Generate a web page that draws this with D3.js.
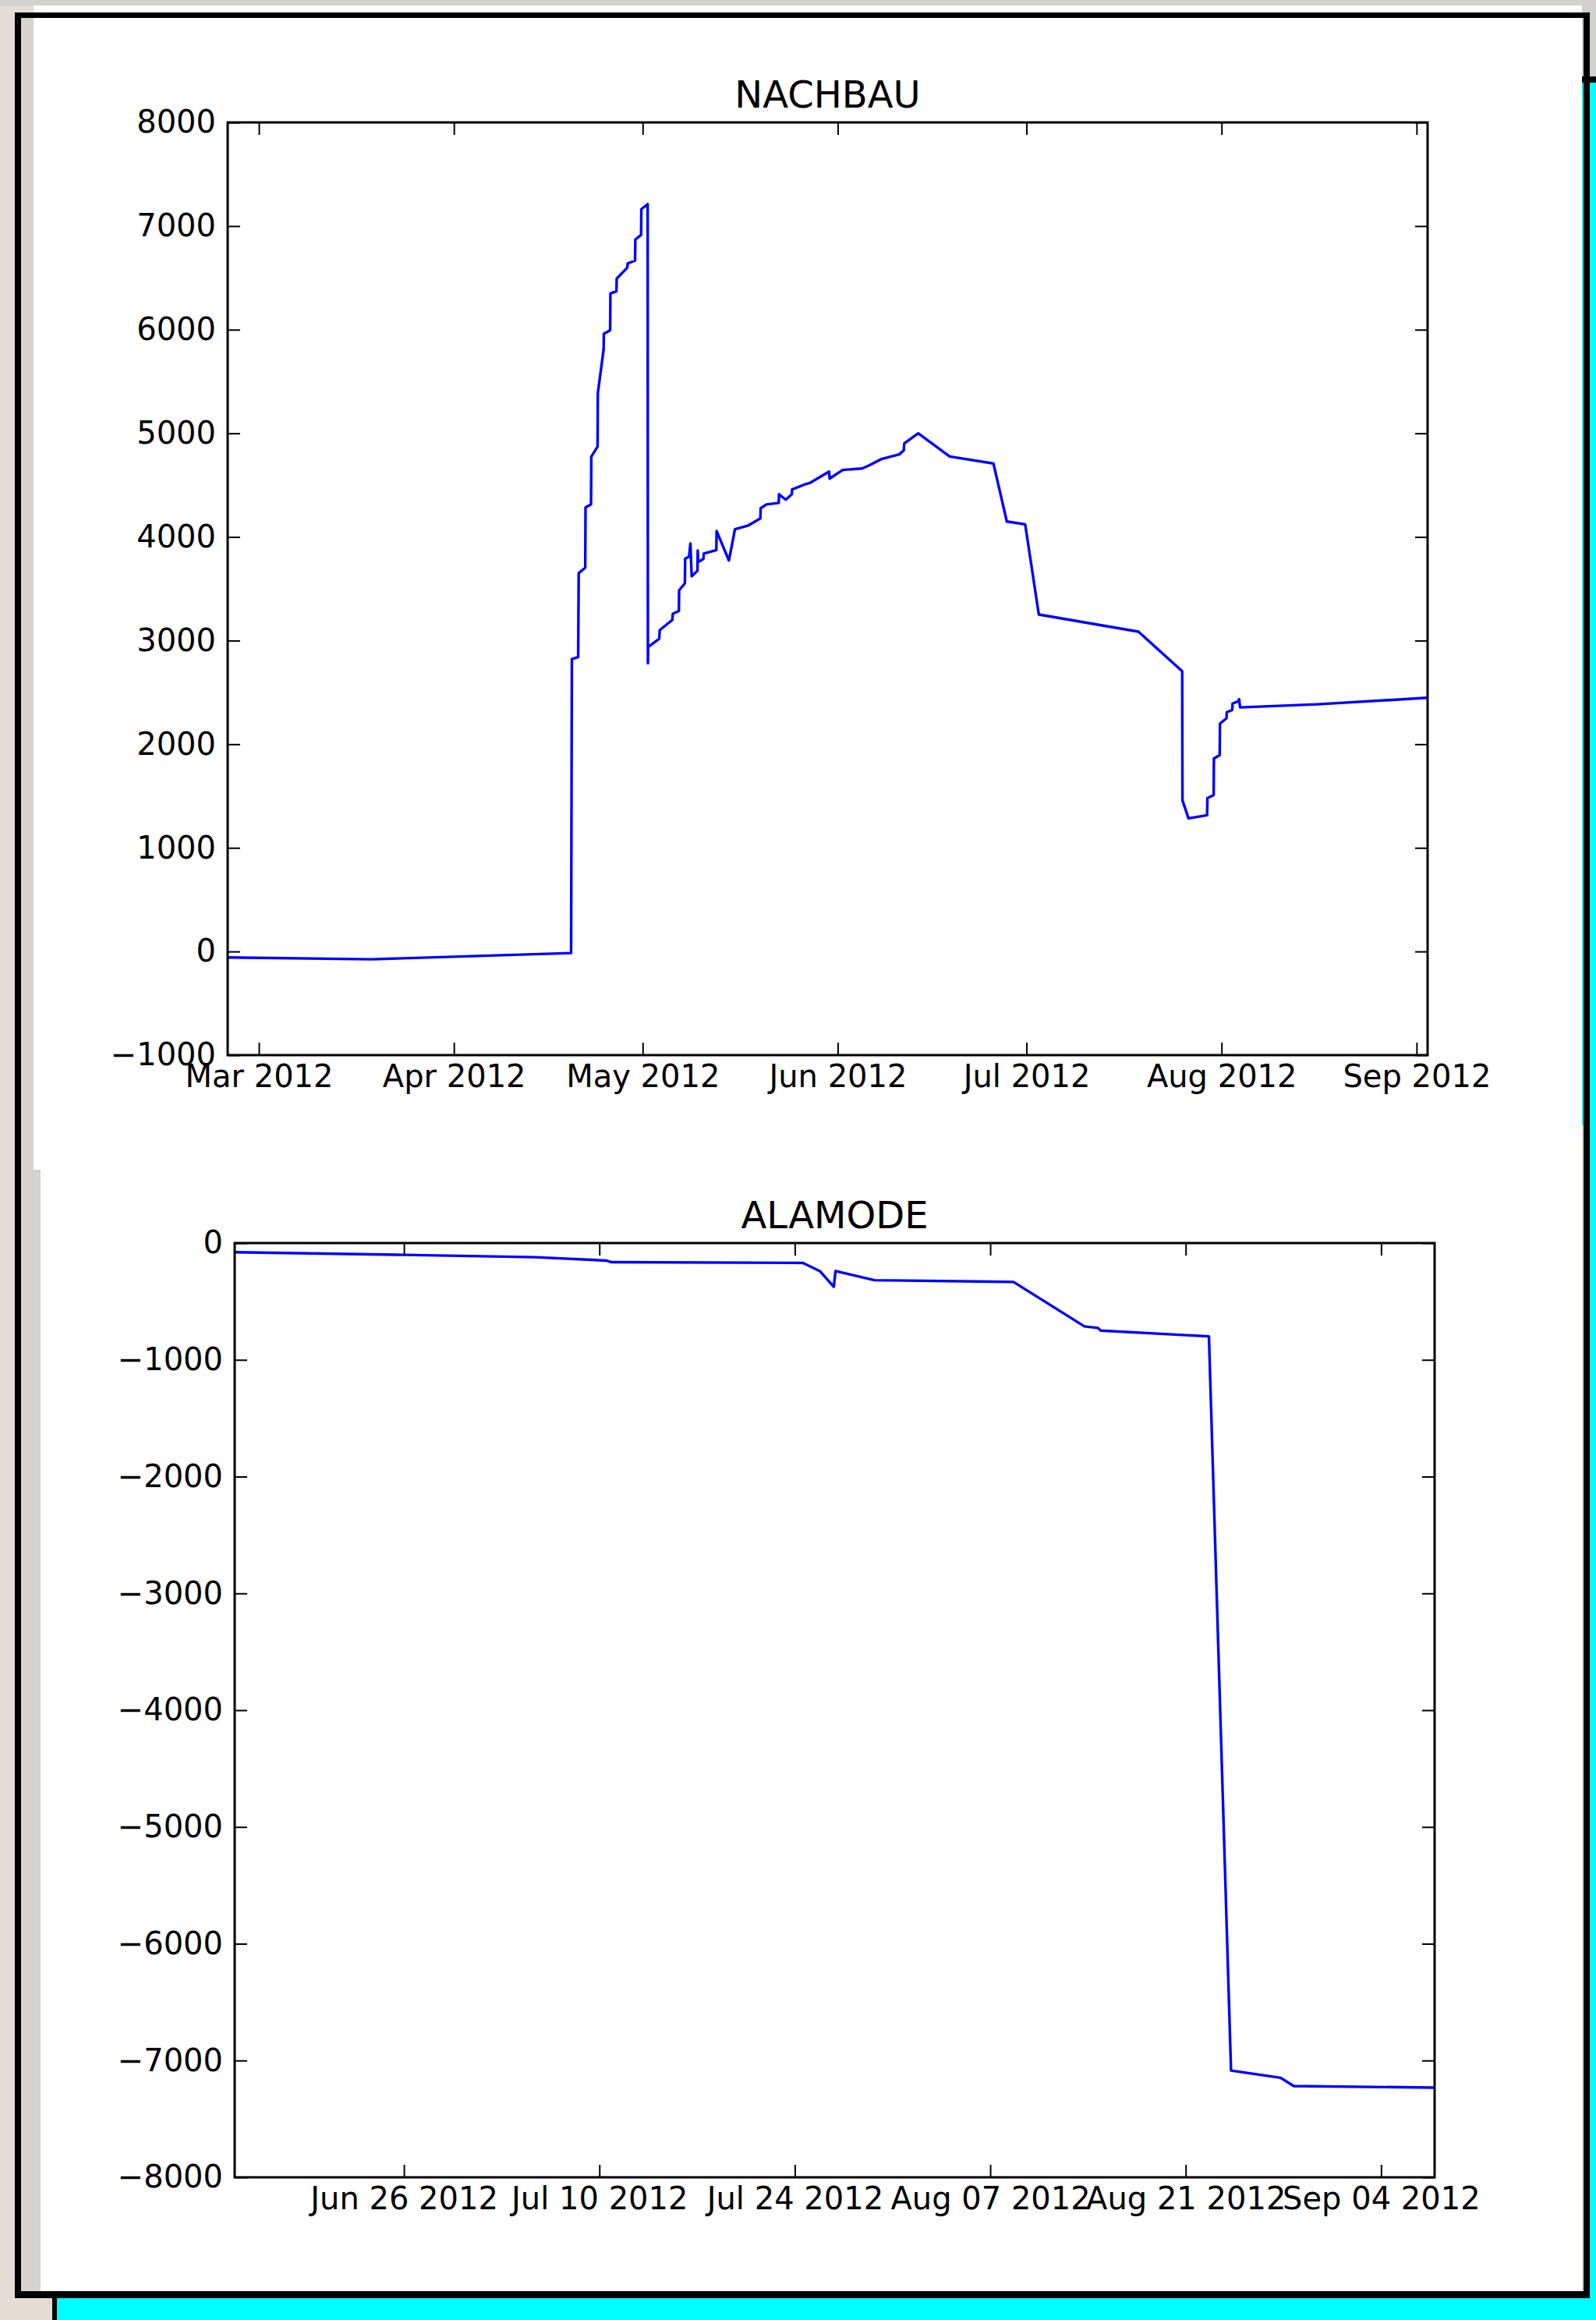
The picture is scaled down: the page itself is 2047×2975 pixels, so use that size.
<!DOCTYPE html>
<html><head><meta charset="utf-8">
<script src="https://cdn.jsdelivr.net/npm/d3@7"></script>
<style>
html,body{margin:0;padding:0;background:#e4ddd5;}
svg{display:block;}
</style>
</head><body>
<svg id="c" width="2047" height="2975"></svg>
<script>
// ---------- DATA ----------
const nachbauTitle = "NACHBAU";
const nachbauDates = [
"2012-02-25T01:00","2012-03-18T22:00","2012-04-19T15:00","2012-04-19T18:00","2012-04-20T18:00","2012-04-20T20:00",
"2012-04-21T21:00","2012-04-21T22:00","2012-04-22T19:00","2012-04-22T20:00","2012-04-23T20:00","2012-04-23T21:00",
"2012-04-24T19:00","2012-04-24T20:00","2012-04-25T20:00","2012-04-25T21:00","2012-04-26T20:00","2012-04-26T21:00",
"2012-04-28T13:00","2012-04-28T15:00","2012-04-29T19:00","2012-04-29T20:00","2012-04-30T18:00","2012-04-30T19:00",
"2012-05-01T19:00","2012-05-01T20:00","2012-05-01T21:00","2012-05-03T15:00","2012-05-03T17:00","2012-05-05T17:00",
"2012-05-05T19:00","2012-05-06T18:00","2012-05-06T19:00","2012-05-07T17:00","2012-05-07T18:00","2012-05-08T09:00",
"2012-05-08T14:00","2012-05-08T19:00","2012-05-09T17:00","2012-05-09T18:00","2012-05-09T20:00","2012-05-10T16:00",
"2012-05-10T17:00","2012-05-12T17:00","2012-05-12T18:00","2012-05-14T17:00","2012-05-15T16:00","2012-05-17T19:00",
"2012-05-19T17:00","2012-05-19T18:00","2012-05-20T16:00","2012-05-22T15:00","2012-05-22T16:00","2012-05-23T18:00",
"2012-05-24T17:00","2012-05-24T18:00","2012-05-26T14:00","2012-05-27T13:00","2012-05-30T15:00","2012-05-30T17:00",
"2012-06-01T19:00","2012-06-04T21:00","2012-06-06T00:00","2012-06-07T23:00","2012-06-10T19:00","2012-06-11T12:00",
"2012-06-11T14:00","2012-06-13T19:00","2012-06-18T19:00","2012-06-25T18:00","2012-06-27T21:00","2012-06-30T19:00",
"2012-07-02T23:00","2012-07-18T19:00","2012-07-25T18:00","2012-07-25T19:00","2012-07-26T18:00","2012-07-29T17:00",
"2012-07-29T18:00","2012-07-30T18:00","2012-07-30T19:00","2012-07-31T17:00","2012-07-31T18:00","2012-08-01T19:00",
"2012-08-01T20:00","2012-08-02T17:00","2012-08-02T18:00","2012-08-03T16:00","2012-08-03T19:00","2012-08-03T23:00",
"2012-08-16T06:00","2012-09-02T18:00"
];
const nachbauValues = [
-57,-75,-15,2822,2841,3651,
3703,4284,4314,4774,4872,5388,
5809,5960,5995,6349,6372,6493,
6598,6640,6666,6869,6915,7163,
7212,2781,2939,3018,3101,3199,
3259,3286,3485,3553,3790,3810,
3937,3621,3674,3870,3757,3790,
3840,3874,4058,3773,4075,4111,
4179,4277,4314,4329,4412,4360,
4412,4458,4503,4520,4631,4563,
4647,4661,4691,4752,4797,4835,
4902,5000,4776,4709,4149,4122,
3252,3086,2705,1458,1285,1315,
1480,1510,1861,1895,2198,2251,
2309,2330,2392,2415,2434,2355,
2385,2448
];
const nachbauXTicks = ["2012-03-01","2012-04-01","2012-05-01","2012-06-01","2012-07-01","2012-08-01","2012-09-01"];
const nachbauYTicks = [-1000,0,1000,2000,3000,4000,5000,6000,7000,8000];
const nachbauYDomain = [-1000, 8000];

const alamodeTitle = "ALAMODE";
const alamodeDates = [
"2012-06-13T21:00","2012-06-26T00:00","2012-07-05T09:00","2012-07-10T12:00","2012-07-10T21:00","2012-07-24T14:00",
"2012-07-25T19:00","2012-07-26T19:00","2012-07-26T22:00","2012-07-29T17:00","2012-08-08T16:00","2012-08-13T18:00",
"2012-08-14T17:00","2012-08-14T22:00","2012-08-22T16:00","2012-08-24T06:00","2012-08-27T19:00","2012-08-28T18:00",
"2012-09-07T20:00"
];
const alamodeValues = [
-78,-101,-121,-150,-164,-170,
-240,-374,-240,-318,-333,-714,
-727,-750,-799,-7086,-7148,-7219,
-7232
];
const alamodeXTicks = ["2012-06-26","2012-07-10","2012-07-24","2012-08-07","2012-08-21","2012-09-04"];
const alamodeYTicks = [-8000,-7000,-6000,-5000,-4000,-3000,-2000,-1000,0];
const alamodeYDomain = [-8000, 0];

// ---------- DRAW ----------
const svg = d3.select("#c");
const FONT = "DejaVu Sans";
const parseDT = d3.timeParse("%Y-%m-%dT%H:%M");
const parseD = d3.timeParse("%Y-%m-%d");

// screenshot frame decoration
const deco = [
  {x:0,y:0,w:2047,h:2975,c:"#e4ddd5"},
  {x:0,y:0,w:2047,h:8,c:"#d4d2ce"},
  {x:27,y:16,w:30,h:2925,c:"#d6d2cd"},
  {x:2029,y:0,w:18,h:100,c:"#d2d0cc"},
  {x:43,y:7,w:1986,h:1493,c:"#ffffff"},
  {x:52,y:1500,w:1977,h:1438,c:"#ffffff"},
  {x:2039,y:106,w:8,h:2869,c:"#00ffff"},
  {x:2029,y:106,w:3,h:1337,c:"#00ffff"},
  {x:73,y:2947,w:1974,h:28,c:"#00ffff"},
  {x:19,y:16,w:2020,h:7,c:"#000"},
  {x:19,y:16,w:8,h:2931,c:"#000"},
  {x:2031,y:16,w:8,h:2931,c:"#000"},
  {x:19,y:2938,w:2020,h:9,c:"#000"},
  {x:2029,y:98,w:18,h:8,c:"#000"},
  {x:67,y:2938,w:6,h:37,c:"#000"}
];
svg.append("g").selectAll("rect").data(deco).join("rect")
  .attr("x",d=>d.x).attr("y",d=>d.y).attr("width",d=>d.w).attr("height",d=>d.h).attr("fill",d=>d.c);

function drawPanel(o, idx) {
  const g = svg.append("g");
  const dates = o.dates.map(parseDT);
  const x = d3.scaleTime().domain(d3.extent(dates)).range([o.left, o.right]);
  const y = d3.scaleLinear().domain(o.yDomain).range([o.bottom, o.top]);
  const clipId = "clip" + idx;
  g.append("clipPath").attr("id", clipId).append("rect")
    .attr("x", o.left).attr("y", o.top).attr("width", o.right - o.left).attr("height", o.bottom - o.top);

  const line = d3.line().x((d,i)=>x(dates[i])).y(d=>y(d));
  g.append("path").datum(o.values)
    .attr("clip-path", `url(#${clipId})`)
    .attr("d", line).attr("fill","none").attr("stroke","#0000ff")
    .attr("stroke-width",3.4).attr("stroke-linejoin","round");

  const xt = o.xTicks.map(parseD);
  const style = sel => {
    sel.attr("font-size", 40).attr("font-family", FONT);
    sel.select(".domain").remove();
    sel.selectAll(".tick line").attr("stroke","#000").attr("stroke-width",2);
    sel.selectAll(".tick text").attr("fill","#000");
  };
  g.append("g").attr("transform",`translate(0,${o.bottom})`)
    .call(d3.axisBottom(x).tickValues(xt).tickFormat(d3.timeFormat(o.xFmt)).tickSizeInner(-16).tickSizeOuter(0).tickPadding(13))
    .call(style);
  g.append("g").attr("transform",`translate(0,${o.top})`)
    .call(d3.axisTop(x).tickValues(xt).tickFormat(()=>"").tickSizeInner(-16).tickSizeOuter(0))
    .call(style);
  g.append("g").attr("transform",`translate(${o.left},0)`)
    .call(d3.axisLeft(y).tickValues(o.yTicks).tickFormat(d3.format("d")).tickSizeInner(-16).tickSizeOuter(0).tickPadding(15))
    .call(style);
  g.append("g").attr("transform",`translate(${o.right},0)`)
    .call(d3.axisRight(y).tickValues(o.yTicks).tickFormat(()=>"").tickSizeInner(-16).tickSizeOuter(0))
    .call(style);

  g.append("rect").attr("x",o.left).attr("y",o.top)
    .attr("width",o.right-o.left).attr("height",o.bottom-o.top)
    .attr("fill","none").attr("stroke","#000").attr("stroke-width",3);

  g.append("text").attr("x",(o.left+o.right)/2).attr("y",o.top-19)
    .attr("text-anchor","middle").attr("font-family",FONT).attr("font-size",48)
    .attr("fill","#000").text(o.title);
}

drawPanel({title:nachbauTitle, dates:nachbauDates, values:nachbauValues, xTicks:nachbauXTicks, xFmt:"%b %Y",
  yTicks:nachbauYTicks, yDomain:nachbauYDomain, left:292, right:1831, top:157, bottom:1353}, 0);
drawPanel({title:alamodeTitle, dates:alamodeDates, values:alamodeValues, xTicks:alamodeXTicks, xFmt:"%b %d %Y",
  yTicks:alamodeYTicks, yDomain:alamodeYDomain, left:301, right:1840, top:1594, bottom:2792}, 1);
</script>
</body></html>
